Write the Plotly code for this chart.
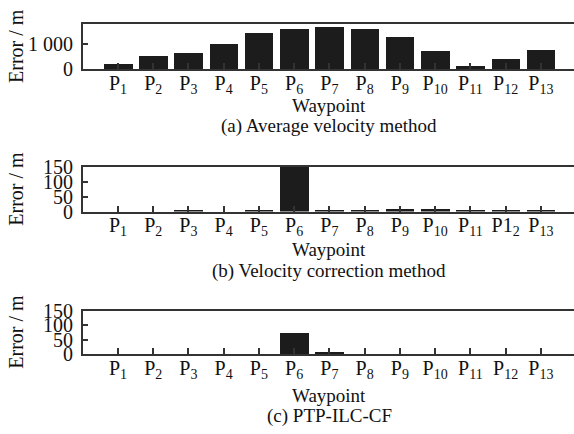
import plotly.graph_objects as go

# ---------------- data ----------------
waypoints = list(range(1, 14))
tick_labels = [f"P<sub>{i}</sub>" for i in waypoints]
tick_labels_b = tick_labels.copy()
tick_labels_b[11] = "P1<sub>2</sub>"   # as printed in the original panel (b)

avg_velocity = [205, 515, 625, 1000, 1430, 1615, 1690, 1590, 1270, 735, 130, 415, 760]
vel_correction = [0, 0, 4, 0, 5, 150, 2, 2, 9, 7, 2, 2, 5]
ptp_ilc_cf = [0, 0, 0, 0, 0, 74, 8, 0, 0, 0, 0, 0, 0]

captions = ["(a) Average velocity method", "(b) Velocity correction method", "(c) PTP-ILC-CF"]

# ---------------- layout helpers ----------------
W, H = 574, 434
FONT = "Liberation Serif, Times New Roman, serif"
BAR = "#1c1c1c"
AX = "#333333"

def py(pix):
    return 1 - pix / H

def px(pix):
    return pix / W

panels = [
    # (top px, bottom px)
    (24, 69),
    (167, 211.5),
    (310.5, 354),
]
label_y = [  # waypoint label center, caption center
    (106, 126.5),
    (250, 270.5),
    (395.5, 416),
]

fig = go.Figure()
series = [avg_velocity, vel_correction, ptp_ilc_cf]
for k, vals in enumerate(series):
    sfx = "" if k == 0 else str(k + 1)
    fig.add_trace(go.Bar(
        x=waypoints, y=vals, width=0.81,
        marker=dict(color=BAR, line=dict(width=0)),
        xaxis="x" + sfx, yaxis="y" + sfx, showlegend=False,
    ))

layout = dict(
    template="none",
    width=W, height=H, margin=dict(l=0, r=0, t=0, b=0, pad=0),
    paper_bgcolor="white", plot_bgcolor="white",
    font=dict(family=FONT, color="#111111"),
    bargap=0,
)

annotations = []
xdom = [px(82.7), 1.0]
for k, (top, bot) in enumerate(panels):
    sfx = "" if k == 0 else str(k + 1)
    layout["xaxis" + sfx] = dict(
        domain=xdom, anchor="y" + sfx, range=[0, 13.94], automargin=False,
        tickvals=waypoints, ticktext=tick_labels_b if k == 1 else tick_labels,
        ticks="inside", ticklen=6, tickwidth=1.5, tickcolor=AX,
        showline=True, linecolor=AX, linewidth=1.5, mirror=True,
        showgrid=False, zeroline=False, ticklabelstandoff=-5,
        tickfont=dict(family=FONT, size=20, color="#111111"),
    )
    if k == 0:
        yt = dict(range=[0, 1800], tickvals=[0, 1000], ticktext=["0", "1 000"])
    else:
        yt = dict(range=[0, 150], tickvals=[0, 50, 100, 150],
                  ticktext=["0", "50", "100", "150"])
    layout["yaxis" + sfx] = dict(
        domain=[py(bot), py(top)], anchor="x" + sfx, automargin=False,
        ticks="inside", ticklen=6, tickwidth=1.5, tickcolor=AX,
        showline=True, linecolor=AX, linewidth=1.5, mirror=False,
        showgrid=False, zeroline=False, ticklabelstandoff=4,
        tickfont=dict(family=FONT, size=20, color="#111111"),
        **yt,
    )
    # y-axis title
    annotations.append(dict(
        text="Error / m", x=px(16.5), y=py((top + bot) / 2), xref="paper", yref="paper",
        xanchor="center", yanchor="middle", textangle=-90, showarrow=False,
        font=dict(family=FONT, size=20, color="#111111"),
    ))
    wy, cy = label_y[k]
    annotations.append(dict(
        text="Waypoint", x=px(329), y=py(wy), xref="paper", yref="paper",
        xanchor="center", yanchor="middle", showarrow=False,
        font=dict(family=FONT, size=19, color="#111111"),
    ))
    annotations.append(dict(
        text=captions[k], x=px(329), y=py(cy), xref="paper", yref="paper",
        xanchor="center", yanchor="middle", showarrow=False,
        font=dict(family=FONT, size=19, color="#111111"),
    ))

layout["annotations"] = annotations
fig.update_layout(**layout)
fig.write_html("out.html")
